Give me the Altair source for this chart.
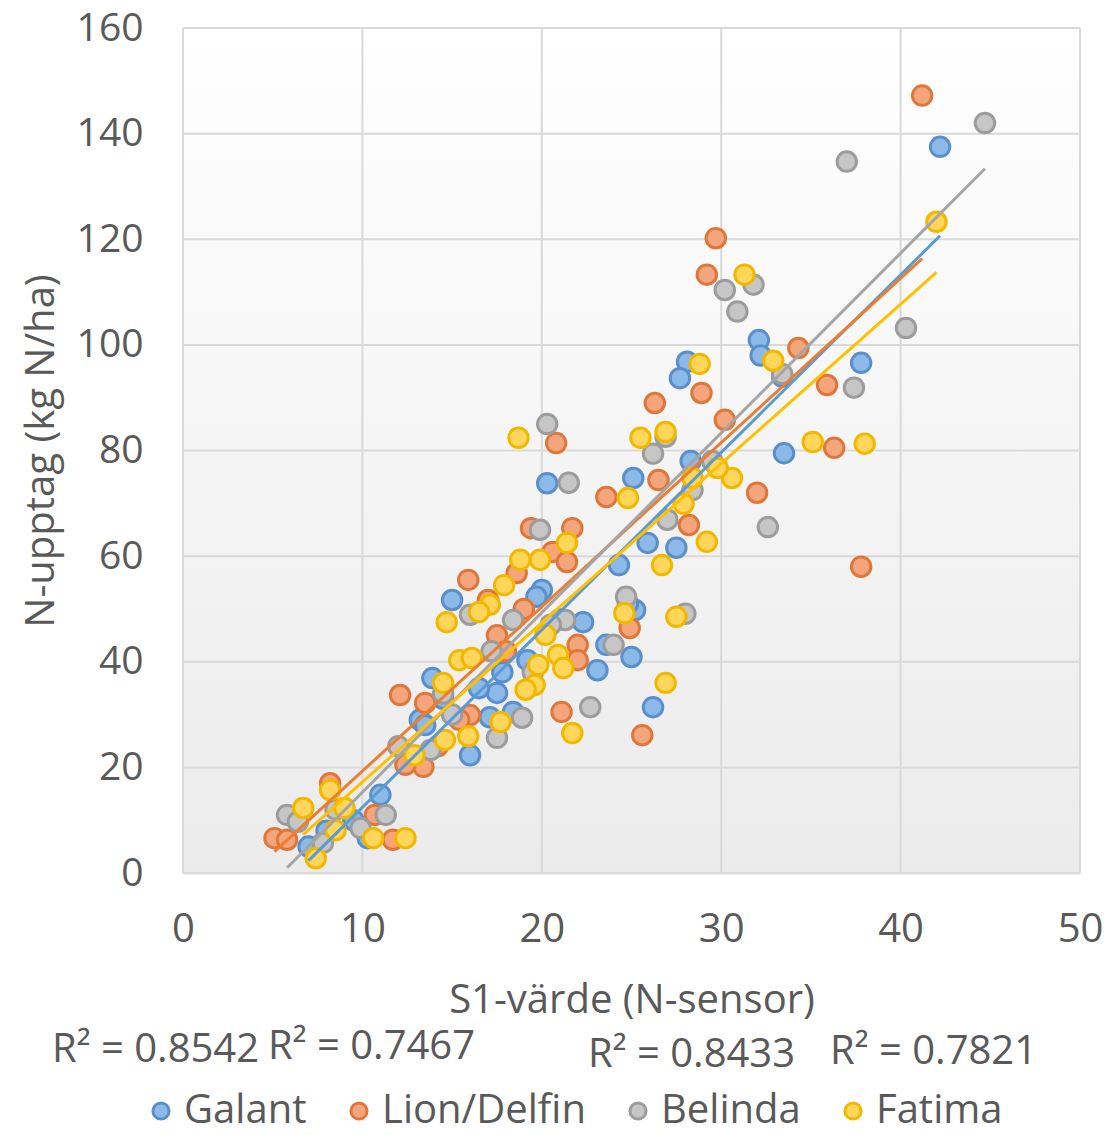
import altair as alt
import pandas as pd

# ---------------- data ----------------
series_names = ["Galant", "Lion/Delfin", "Belinda", "Fatima"]

galant_x = [42.2, 32.1, 32.2, 33.4, 37.8, 33.5, 28.1, 27.7, 27.5, 25.9, 25.1, 25.0, 26.2,
            20.3, 24.3, 20.0, 19.7, 22.3, 23.6, 23.1, 25.2, 15.0, 13.9, 19.2, 17.5, 18.4,
            17.1, 13.2, 16.0, 11.0, 10.3, 14.5, 16.5, 21.0, 28.3, 24.8, 8.0, 7.0, 9.5, 17.8, 13.5]
galant_y = [137.5, 100.9, 98.0, 94.0, 96.6, 79.5, 96.8, 93.7, 61.6, 62.5, 74.8, 40.9, 31.4,
            73.8, 58.3, 53.6, 52.3, 47.5, 43.2, 38.4, 49.8, 51.7, 36.9, 40.3, 34.1, 30.5,
            29.5, 29.0, 22.3, 14.8, 6.6, 33.0, 35.0, 48.0, 78.0, 51.0, 8.0, 5.0, 10.0, 38.0, 28.0]

lion_x = [41.2, 29.7, 29.2, 34.3, 26.3, 28.9, 30.2, 35.9, 36.3, 32.0, 28.2, 26.5, 23.6, 37.8,
          20.8, 19.4, 20.6, 21.4, 21.7, 24.9, 22.0, 22.0, 21.1, 25.6, 15.9, 18.6, 17.0, 12.1,
          13.5, 16.0, 8.2, 5.1, 5.8, 11.7, 10.7, 13.4, 12.4, 15.4, 17.5, 19.0, 14.2, 18.0]
lion_y = [147.2, 120.2, 113.3, 99.4, 89.0, 90.9, 85.8, 92.4, 80.5, 72.0, 65.9, 74.4, 71.2, 58.0,
          81.4, 65.3, 60.8, 58.9, 65.3, 46.4, 43.2, 40.3, 30.5, 26.1, 55.5, 56.8, 51.7, 33.7,
          32.2, 29.9, 17.0, 6.6, 6.3, 6.3, 11.0, 20.1, 20.5, 29.0, 45.0, 50.0, 24.0, 42.0]

belinda_x = [44.7, 37.0, 31.8, 30.2, 30.9, 40.3, 37.4, 33.4, 32.6, 28.0, 26.2, 20.3, 21.5,
             19.9, 24.7, 24.0, 22.7, 18.9, 21.3, 18.4, 16.0, 17.5, 13.8, 11.3, 5.8, 6.4, 7.8,
             9.9, 27.0, 26.9, 28.4, 29.5, 17.2, 14.5, 19.5, 20.5, 15.0, 12.0, 8.5]
belinda_y = [142.0, 134.7, 111.4, 110.4, 106.3, 103.2, 91.9, 94.5, 65.5, 49.1, 79.4, 85.0, 73.9,
             65.0, 52.3, 43.2, 31.4, 29.4, 47.9, 47.9, 48.9, 25.6, 23.3, 11.0, 11.0, 9.7, 5.7,
             8.5, 66.9, 82.6, 72.5, 78.0, 42.0, 34.0, 38.0, 47.0, 30.0, 24.0, 12.0]

fatima_x = [42.0, 31.3, 28.8, 32.9, 35.1, 38.0, 30.6, 29.8, 29.2, 25.5, 26.9, 27.9, 28.4, 26.7,
            27.5, 26.9, 24.8, 24.6, 18.7, 18.8, 17.9, 17.1, 16.5, 14.7, 19.9, 21.4, 20.2, 20.9,
            19.8, 21.2, 19.6, 19.1, 21.7, 15.4, 16.1, 14.5, 14.6, 15.9, 17.7, 12.9, 9.0, 6.7,
            7.4, 8.5, 10.6, 12.4, 8.2]
fatima_y = [123.3, 113.3, 96.4, 97.0, 81.6, 81.3, 74.8, 76.7, 62.7, 82.4, 83.5, 69.9, 74.8, 58.3,
            48.5, 36.0, 71.0, 49.2, 82.4, 59.3, 54.5, 50.8, 49.4, 47.5, 59.3, 62.5, 45.1, 41.3,
            39.4, 38.8, 35.6, 34.7, 26.5, 40.3, 40.7, 36.0, 25.2, 25.9, 28.6, 22.3, 12.3, 12.3,
            2.8, 8.1, 6.6, 6.6, 15.7]

r2_labels = ["R² = 0.8542", "R² = 0.7467", "R² = 0.8433", "R² = 0.7821"]

x_ticks = [0, 10, 20, 30, 40, 50]
y_ticks = [0, 20, 40, 60, 80, 100, 120, 140, 160]

# ---------------- build table ----------------
rows = []
for name, xs_, ys_ in zip(series_names,
                          [galant_x, lion_x, belinda_x, fatima_x],
                          [galant_y, lion_y, belinda_y, fatima_y]):
    for a, b in zip(xs_, ys_):
        rows.append({"series": name, "s1": a, "n": b})
df = pd.DataFrame(rows)

# ---------------- styling ----------------
W, H = 897, 845
PAD_L, PAD_T = 183, 28
FONT = "Open Sans"
TEXT = "#595959"
GRID = "#D9D9D9"
line_colors = ["#5B9BD5", "#ED7D31", "#A5A5A5", "#FFC000"]
stroke_colors = ["#5A8FCB", "#E0773A", "#9C9C9C", "#F2B800"]
fill_colors = ["#8CBAE8", "#F4A57C", "#C6C6C6", "#FFD65C"]

xscale = alt.Scale(domain=[0, 50], nice=False, zero=False)
yscale = alt.Scale(domain=[0, 160], nice=False, zero=False)

x_axis = alt.Axis(
    values=x_ticks, grid=False, ticks=False, labelFlush=False,
    labelFont=FONT, labelFontSize=40, labelColor=TEXT, labelPadding=36,
    domainColor=GRID, domainWidth=2,
    title="S1-värde (N-sensor)", titleFont=FONT, titleFontSize=40,
    titleFontWeight="normal", titleColor=TEXT, titleBaseline="alphabetic",
    titleX=W / 2, titleY=139,
)
y_axis = alt.Axis(
    values=y_ticks, grid=False, ticks=False, labelBound=False,
    labelFont=FONT, labelFontSize=39, labelColor=TEXT, labelPadding=40,
    domainColor=GRID, domainWidth=2,
    title="N-upptag (kg N/ha)", titleFont=FONT, titleFontSize=40,
    titleFontWeight="normal", titleColor=TEXT, titleBaseline="alphabetic",
    titleAngle=270, titleX=-130, titleY=H / 2,
)

bg = alt.Chart(alt.Data(values=[{"k": 1}])).mark_rect(
    fill=alt.Gradient(
        gradient="linear",
        stops=[alt.GradientStop(color="#ffffff", offset=0),
               alt.GradientStop(color="#ebebeb", offset=1)],
        x1=0, x2=0, y1=0, y2=1,
    )
).encode(x=alt.value(0), x2=alt.value(W), y=alt.value(0), y2=alt.value(H))

vgrid = alt.Chart(pd.DataFrame({"gx": x_ticks})).mark_rule(
    color=GRID, strokeWidth=2
).encode(x=alt.X("gx:Q", scale=xscale, axis=x_axis))

hgrid = alt.Chart(pd.DataFrame({"gy": y_ticks})).mark_rule(
    color=GRID, strokeWidth=2
).encode(y=alt.Y("gy:Q", scale=yscale, axis=y_axis))

legend = alt.Legend(
    orient="none", legendX=-42, legendY=1063, direction="horizontal", title=None,
    labelFont=FONT, labelFontSize=40, labelColor=TEXT, labelOffset=3, labelLimit=0,
    symbolType="circle", symbolSize=260, symbolStrokeWidth=3, columnPadding=32,
)

points = alt.Chart(df).mark_point(
    shape="circle", filled=True, opacity=1, strokeWidth=3, size=380, strokeOpacity=1
).encode(
    x=alt.X("s1:Q", scale=xscale, axis=x_axis),
    y=alt.Y("n:Q", scale=yscale, axis=y_axis),
    fill=alt.Fill("series:N", scale=alt.Scale(domain=series_names, range=fill_colors),
                  legend=legend, sort=series_names),
    stroke=alt.Stroke("series:N", scale=alt.Scale(domain=series_names, range=stroke_colors),
                      legend=legend, sort=series_names),
)

trend = alt.Chart(df).transform_regression(
    "s1", "n", groupby=["series"]
).mark_line(strokeWidth=3).encode(
    x=alt.X("s1:Q", scale=xscale, axis=x_axis),
    y=alt.Y("n:Q", scale=yscale, axis=y_axis),
    color=alt.Color("series:N", scale=alt.Scale(domain=series_names, range=line_colors),
                    legend=None),
)

r2_pos = [(52, 1050), (268, 1047), (588, 1055), (830, 1052)]
r2_layers = []
for lab, (px, py) in zip(r2_labels, r2_pos):
    r2_layers.append(
        alt.Chart(alt.Data(values=[{"t": lab}])).mark_text(
            font=FONT, fontSize=40, color=TEXT, align="left", baseline="middle"
        ).encode(text="t:N", x=alt.value(px - PAD_L), y=alt.value(py - PAD_T))
    )

chart = alt.layer(bg, vgrid, hgrid, points, trend, *r2_layers).properties(
    width=W, height=H,
    padding={"left": PAD_L, "top": PAD_T, "right": 1110 - PAD_L - W, "bottom": 1135 - PAD_T - H},
    autosize=alt.AutoSizeParams(type="none"),
    background="#ffffff",
).configure_view(stroke=None)

chart.save("out.html", embed_options={"renderer": "svg", "actions": False})
